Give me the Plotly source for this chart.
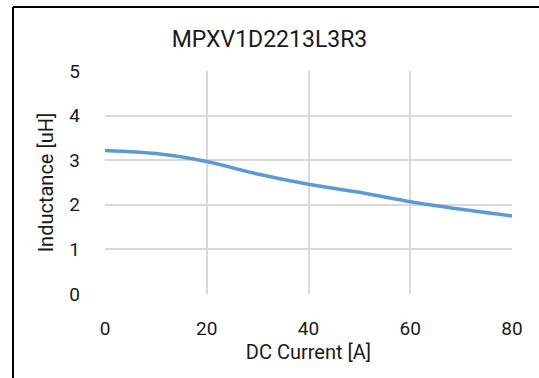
import plotly.graph_objects as go

current_a = [0, 10, 20, 30, 40, 50, 60, 70, 80]
inductance_uh = [3.22, 3.15, 2.97, 2.69, 2.46, 2.28, 2.07, 1.90, 1.75]
x_ticks = [0, 20, 40, 60, 80]
y_ticks = [0, 1, 2, 3, 4, 5]

FONT = "Roboto"
W, H = 539, 378
L, R, T, B = 105, 27, 71, 84
pw, ph = W - L - R, H - T - B

fig = go.Figure()
fig.add_trace(go.Scatter(
    x=current_a, y=inductance_uh, mode="lines",
    line=dict(color="#5b9bd5", width=3.5, shape="spline", smoothing=0.8),
    showlegend=False, hoverinfo="skip",
))

fig.update_layout(
    width=W, height=H,
    margin=dict(l=L, r=R, t=T, b=B, pad=0),
    paper_bgcolor="white", plot_bgcolor="white",
    font=dict(family=FONT, size=19, color="#1a1a1a"),
    title=dict(text="MPXV1D2213L3R3", x=0.5, xanchor="center", y=1 - 39 / H, yanchor="middle",
               font=dict(family=FONT, size=23, color="#1a1a1a")),
    xaxis=dict(range=[0, 80], tickvals=x_ticks, ticktext=[str(v) for v in x_ticks],
               showgrid=True, gridcolor="#d9d9d9", gridwidth=1.5, zeroline=False,
               showline=False, ticks="", ticklabelstandoff=21,
               tickfont=dict(size=19),
               title=dict(text="DC Current [A]", standoff=2, font=dict(size=20))),
    yaxis=dict(range=[0, 5], tickvals=y_ticks, ticktext=[str(v) for v in y_ticks],
               showgrid=True, gridcolor="#d9d9d9", gridwidth=1.5, zeroline=False,
               showline=False, ticks="", ticklabelstandoff=24,
               tickfont=dict(size=19),
               title=dict(text="Inductance [uH]", standoff=10, font=dict(size=20))),
)

# outer frame: only top and left edges fall inside the window
bx0 = (13 - L) / pw
by1 = (H - 7 - B) / ph
fig.add_shape(type="line", xref="paper", yref="paper",
              x0=bx0, x1=(W - L) / pw, y0=by1, y1=by1,
              line=dict(color="black", width=2), layer="below")
fig.add_shape(type="line", xref="paper", yref="paper",
              x0=bx0, x1=bx0, y0=by1, y1=-B / ph,
              line=dict(color="black", width=2), layer="below")

fig.write_html(
    "out.html", config={"displayModeBar": False},
    post_script=(
        "document.documentElement.style.overflow='hidden';"
        "document.body.style.margin='0';document.body.style.overflow='hidden';"
    ),
)
